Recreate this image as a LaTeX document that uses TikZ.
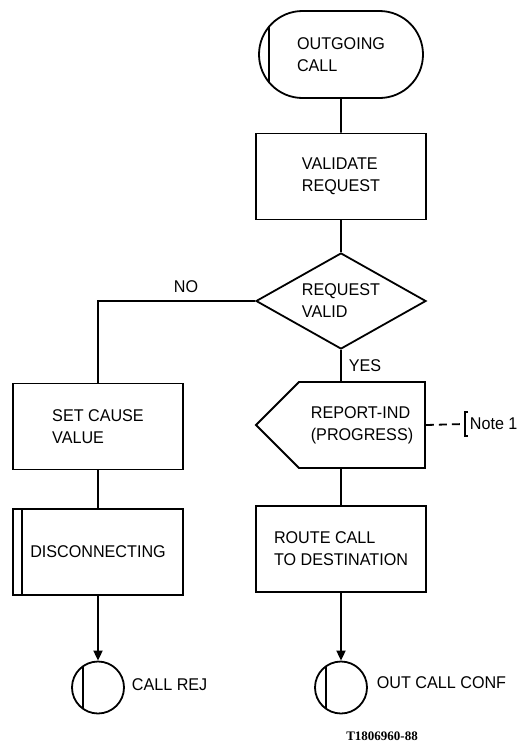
\documentclass[tikz,border=0pt]{standalone}
\usepackage{fontspec}
\setmainfont{Liberation Sans}[FakeStretch=0.95]
\newfontfamily\tagfont{Liberation Serif}
\usetikzlibrary{arrows.meta,shapes.geometric,shapes.misc,shapes.symbols}

\begin{document}
\begin{tikzpicture}[x=1pt, y=-1pt, line width=1.8pt,
    font=\fontsize{17}{22}\selectfont,
    startbox/.style={rounded rectangle, minimum width=164pt, minimum height=87pt,
        path picture={\draw ([xshift=10pt]path picture bounding box.north west) -- ([xshift=10pt]path picture bounding box.south west);}},
    procbox/.style={rectangle, minimum width=170pt, minimum height=86pt},
    callbox/.style={procbox,
        path picture={\draw ([xshift=9pt]path picture bounding box.north west) -- ([xshift=9pt]path picture bounding box.south west);}},
    decide/.style={diamond, aspect=1.77, minimum width=170pt, minimum height=96pt},
    sendbox/.style={signal, signal to=west, signal pointer angle=90, minimum width=169pt, minimum height=86pt},
    joint/.style={circle, minimum size=52pt,
        path picture={\draw ([xshift=11pt]path picture bounding box.north west) -- ([xshift=11pt]path picture bounding box.south west);}}]
\useasboundingbox (0,0) rectangle (522,747);
\begin{scope}[every node/.style={draw, align=left, inner sep=0pt}]
    \node[startbox] (out) at (341,54.5) {OUTGOING\\CALL};
    \node[procbox] (valid) at (341,176.5) {VALIDATE\\REQUEST};
    \node[decide] (check) at (341,301) {REQUEST\\VALID};
    \node[sendbox] (report) at (362,425) {REPORT-IND\\(PROGRESS)};
    \node[procbox] (route) at (341,549) {ROUTE CALL\\TO DESTINATION};
    \node[procbox] (cause) at (98,426.5) {SET CAUSE\\VALUE};
    \node[callbox] (disc) at (98,552) {DISCONNECTING};
    \node[joint] (rej) at (98,687.5) {};
    \node[joint] (conf) at (341,687.5) {};
\end{scope}
\begin{scope}[every node/.style={inner sep=0pt}, >={Triangle[length=10pt,width=9pt]}]
    \draw (out) -- (valid);
    \draw (valid) -- (check);
    \draw (check) -- node[right=7pt] {YES} (check |- report.north);
    \draw (check.west) -| node[pos=0.22, above=7pt] {NO} (cause.north);
    \draw (route |- report.south) -- (route);
    \draw [->] (route) -- (conf);
    \draw (cause) -- (disc);
    \draw [->] (disc) -- (rej);
    % note on the output
    \coordinate (brk) at (465,424);
    \node[anchor=west] (note) at (469,424) {Note 1};
    \draw [dash pattern=on 8pt off 5pt] (report.east) -- (brk);
    \draw (468,412) -- (465,412) -- (465,436) -- (468,436);
    \node[anchor=west] (rejtxt) at (131,685) {CALL REJ};
    \node[anchor=west] (conftxt) at (376,683) {OUT CALL CONF};
    \node (tag) at (382,736) {\tagfont\bfseries\fontsize{13}{13}\selectfont T1806960-88};
\end{scope}
\end{tikzpicture}
\end{document}
